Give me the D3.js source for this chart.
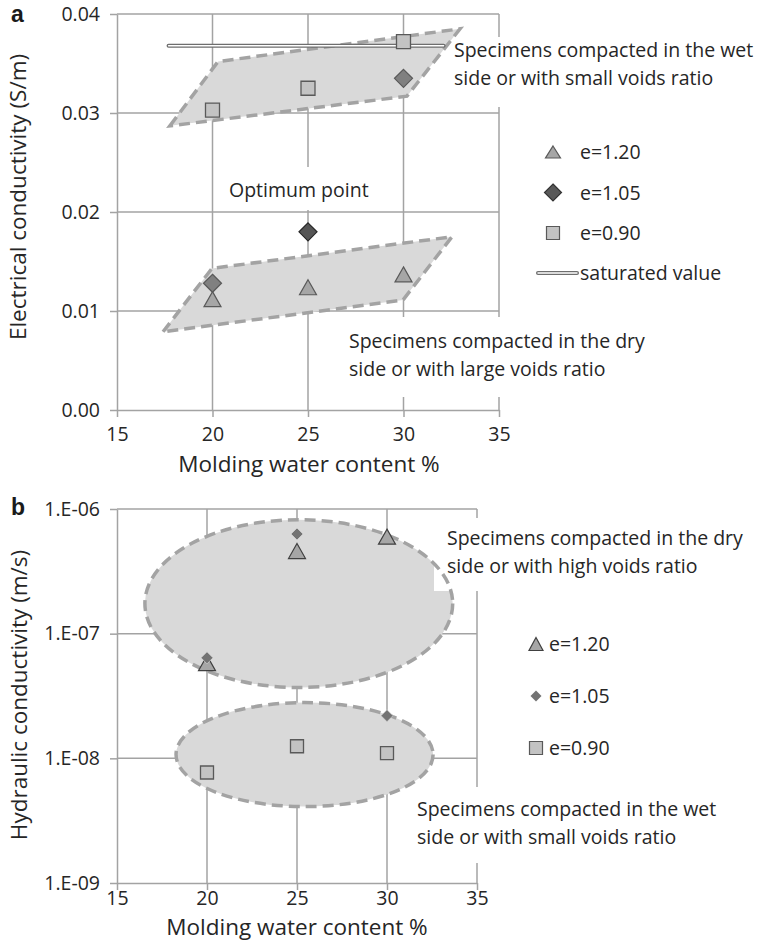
<!DOCTYPE html>
<html lang="en">
<head>
<meta charset="UTF-8">
<title>Conductivity vs molding water content</title>
<script src="https://d3js.org/d3.v7.min.js"></script>
<style>
  body { margin: 0; background: #fff; }
  svg { display: block; font-family: 'Open Sans', sans-serif; }
  .grid line { stroke: #a3a3a3; stroke-width: 1.5; }
  .axis path, .axis line { stroke: #a3a3a3; stroke-width: 1.5; }
  .axis text { font-family: 'Open Sans', sans-serif; font-size: 19.5px; fill: #262626; }
  .note { font-size: 19.5px; fill: #262626; }
  .title { font-size: 22.5px; fill: #262626; }
  .letter { font-family: 'Liberation Sans', Arial, sans-serif; font-weight: bold; font-size: 23px; fill: #1a1a1a; }
  .zone-fill { fill: #d9d9d9; stroke: none; }
  .zone { fill: none; stroke: #a3a3a3; stroke-width: 3.5; stroke-dasharray: 11 6; }
</style>
</head>
<body>
<svg id="chart" width="764" height="942"></svg>
<script>
const waterContent = [20, 25, 30];
const xTicks = [15, 20, 25, 30, 35];
const legendLabels = ["e=1.20", "e=1.05", "e=0.90"];

// (a) electrical conductivity, S/m
const ecTicks = [0, 0.01, 0.02, 0.03, 0.04];
const ecE120 = [0.0112, 0.0124, 0.0137];
const ecE105 = [0.0128, 0.0180, 0.0335];
const ecE090 = [0.0303, 0.0325, 0.0372];
const ecOptimum = 1;               // index in ecE105
const ecSaturated = 0.0368;
const ecSaturatedSpan = [17.7, 32.1];
const ecWetZone = [[17.77, 0.0287], [20.29, 0.0352], [32.96, 0.0385], [30.18, 0.0317]];
const ecDryZone = [[17.41, 0.0079], [19.97, 0.0143], [32.54, 0.0175], [29.97, 0.0111]];

// (b) hydraulic conductivity, m/s
const hcTicks = [1e-9, 1e-8, 1e-7, 1e-6];
const hcTickLabels = ["1.E-09", "1.E-08", "1.E-07", "1.E-06"];
const hcE120 = [5.8e-8, 4.6e-7, 6.0e-7];
const hcE105 = [6.4e-8, 6.3e-7, 2.2e-8];
const hcE090 = [7.7e-9, 1.25e-8, 1.1e-8];
const hcDryZone = { wc: [16.55, 33.65], k: [3.7e-8, 8.2e-7] };
const hcWetZone = { wc: [18.28, 32.56], k: [4.1e-9, 2.8e-8] };

const svg = d3.select("#chart");

function shape(type, w, h) {
  h = h || w;
  if (type === "triangle") return `M0,${-h / 2}L${w / 2},${h / 2}L${-w / 2},${h / 2}Z`;
  if (type === "diamond") return `M0,${-h / 2}L${w / 2},0L0,${h / 2}L${-w / 2},0Z`;
  return `M${-w / 2},${-h / 2}h${w}v${h}h${-w}Z`;
}

function frame(x, y, yTicks, yFormat, xPad) {
  const [x0, x1] = x.range(), [yb, yt] = y.range();
  const grid = svg.append("g").attr("class", "grid");
  grid.selectAll("line.gx").data(xTicks.slice(1)).join("line").attr("class", "gx")
    .attr("x1", d => x(d)).attr("x2", d => x(d)).attr("y1", yb).attr("y2", yt);
  grid.selectAll("line.gy").data(yTicks.slice(1)).join("line").attr("class", "gy")
    .attr("x1", x0).attr("x2", x1).attr("y1", d => y(d)).attr("y2", d => y(d));
  svg.append("g").attr("class", "axis").attr("transform", `translate(0,${yb})`)
    .call(d3.axisBottom(x).tickValues(xTicks).tickSize(7).tickSizeOuter(0).tickPadding(xPad));
  svg.append("g").attr("class", "axis").attr("transform", `translate(${x0},0)`)
    .call(d3.axisLeft(y).tickValues(yTicks).tickFormat(yFormat).tickSize(7).tickSizeOuter(0).tickPadding(10));
}

// white text-box backgrounds that interrupt the grid, as in the source
function boxes(list) {
  svg.append("g").selectAll("rect").data(list).join("rect")
    .attr("x", d => d[0]).attr("y", d => d[1]).attr("width", d => d[2]).attr("height", d => d[3])
    .attr("fill", "#fff");
}

function note(x, y, lines) {
  const t = svg.append("text").attr("class", "note").attr("x", x).attr("y", y);
  lines.forEach((l, i) => t.append("tspan").attr("x", x).attr("dy", i ? 27.5 : 0).text(l));
}

function series(x, y, vals, type, w, h, fill, stroke, sw) {
  svg.append("g").selectAll("path").data(vals).join("path")
    .attr("transform", (d, i) => `translate(${x(waterContent[i])},${y(d)})`)
    .attr("d", shape(type, w, h))
    .attr("fill", typeof fill === "function" ? (d, i) => fill(i) : fill)
    .attr("stroke", typeof stroke === "function" ? (d, i) => stroke(i) : stroke)
    .attr("stroke-width", sw);
}

function satLine(x1, x2, yy) {
  svg.append("line").attr("x1", x1).attr("x2", x2).attr("y1", yy).attr("y2", yy)
    .attr("stroke", "#6e6e6e").attr("stroke-width", 4).attr("stroke-linecap", "round");
  svg.append("line").attr("x1", x1).attr("x2", x2).attr("y1", yy).attr("y2", yy)
    .attr("stroke", "#fff").attr("stroke-width", 1.4).attr("stroke-linecap", "round");
}

// ---------- panel a ----------
const xa = d3.scaleLinear().domain([15, 35]).range([117, 499]);
const ya = d3.scaleLinear().domain([0, 0.04]).range([410, 14]);
frame(xa, ya, ecTicks, d3.format(".2f"), 10);
boxes([[447, 37, 317, 70], [214, 167, 184, 43], [340, 317, 424, 80]]);

const poly = d3.line().x(d => xa(d[0])).y(d => ya(d[1])).curve(d3.curveLinearClosed);
[ecWetZone, ecDryZone].forEach(z => {
  svg.append("path").attr("class", "zone-fill").attr("d", poly(z));
  svg.append("path").attr("class", "zone").attr("d", poly(z));
});

satLine(xa(ecSaturatedSpan[0]), xa(ecSaturatedSpan[1]), ya(ecSaturated));

series(xa, ya, ecE120, "triangle", 17, 15, "#a6a6a6", "#595959", 1.2);
series(xa, ya, ecE105, "diamond", 18, 18, i => i === ecOptimum ? "#555" : "#808080",
  i => i === ecOptimum ? "#262626" : "#595959", 1.2);
series(xa, ya, ecE090, "square", 14, 14, "#c3c3c3", "#595959", 1.3);

note(454, 57, ["Specimens compacted in the wet", "side or with small voids ratio"]);
note(229, 197, ["Optimum point"]);
note(349, 348, ["Specimens compacted in the dry", "side or with large voids ratio"]);

// legend a
const legA = [
  { type: "triangle", w: 15, h: 12, fill: "#a6a6a6", stroke: "#595959" },
  { type: "diamond", w: 17, h: 17, fill: "#595959", stroke: "#333" },
  { type: "square", w: 13, h: 13, fill: "#c3c3c3", stroke: "#595959" }
];
legA.forEach((m, i) => {
  const cy = 152 + i * 40.5;
  svg.append("path").attr("transform", `translate(553,${cy})`).attr("d", shape(m.type, m.w, m.h))
    .attr("fill", m.fill).attr("stroke", m.stroke).attr("stroke-width", 1.2);
  svg.append("text").attr("class", "note").attr("x", 580).attr("y", cy + 7).text(legendLabels[i]);
});
satLine(538, 577, 273);
svg.append("text").attr("class", "note").attr("x", 580).attr("y", 280).text("saturated value");

svg.append("text").attr("class", "title").attr("text-anchor", "middle")
  .attr("transform", "translate(26,197) rotate(-90)").text("Electrical conductivity (S/m)");
svg.append("text").attr("class", "title").attr("text-anchor", "middle")
  .attr("x", 309).attr("y", 472).text("Molding water content %");
svg.append("text").attr("class", "letter").attr("x", 11).attr("y", 22).text("a");

// ---------- panel b ----------
const xb = d3.scaleLinear().domain([15, 35]).range([117, 477]);
const yb = d3.scaleLog().domain([1e-9, 1e-6]).range([883, 509]);
frame(xb, yb, hcTicks, d => hcTickLabels[hcTicks.indexOf(d)], 1);
boxes([[410, 787, 354, 76]]);

function ellipse(z, cls) {
  svg.append("ellipse").attr("class", cls)
    .attr("cx", (xb(z.wc[0]) + xb(z.wc[1])) / 2).attr("cy", (yb(z.k[0]) + yb(z.k[1])) / 2)
    .attr("rx", (xb(z.wc[1]) - xb(z.wc[0])) / 2).attr("ry", (yb(z.k[0]) - yb(z.k[1])) / 2);
}
ellipse(hcDryZone, "zone-fill");
ellipse(hcWetZone, "zone-fill");
boxes([[434, 518, 330, 73]]);
ellipse(hcDryZone, "zone");
ellipse(hcWetZone, "zone");

series(xb, yb, hcE120, "triangle", 17, 15, "#a6a6a6", "#404040", 1.2);
series(xb, yb, hcE105, "diamond", 12, 12, "#737373", "#e0e0e0", 0.6);
series(xb, yb, hcE090, "square", 13, 13, "#c3c3c3", "#595959", 1.3);

note(447, 545, ["Specimens compacted in the dry", "side or with high voids ratio"]);
note(417, 816, ["Specimens compacted in the wet", "side or with small voids ratio"]);

const legB = [
  { type: "triangle", w: 14, h: 13, fill: "#a6a6a6", stroke: "#404040" },
  { type: "diamond", w: 11, h: 11, fill: "#737373", stroke: "none" },
  { type: "square", w: 13, h: 13, fill: "#c3c3c3", stroke: "#595959" }
];
legB.forEach((m, i) => {
  const cy = 644 + i * 52;
  svg.append("path").attr("transform", `translate(536,${cy})`).attr("d", shape(m.type, m.w, m.h))
    .attr("fill", m.fill).attr("stroke", m.stroke).attr("stroke-width", 1.2);
  svg.append("text").attr("class", "note").attr("x", 549).attr("y", cy + 7).text(legendLabels[i]);
});

svg.append("text").attr("class", "title").attr("text-anchor", "middle")
  .attr("transform", "translate(27,695) rotate(-90)").text("Hydraulic conductivity (m/s)");
svg.append("text").attr("class", "title").attr("text-anchor", "middle")
  .attr("x", 297).attr("y", 935).text("Molding water content %");
svg.append("text").attr("class", "letter").attr("x", 11).attr("y", 515).text("b");
</script>
</body>
</html>
